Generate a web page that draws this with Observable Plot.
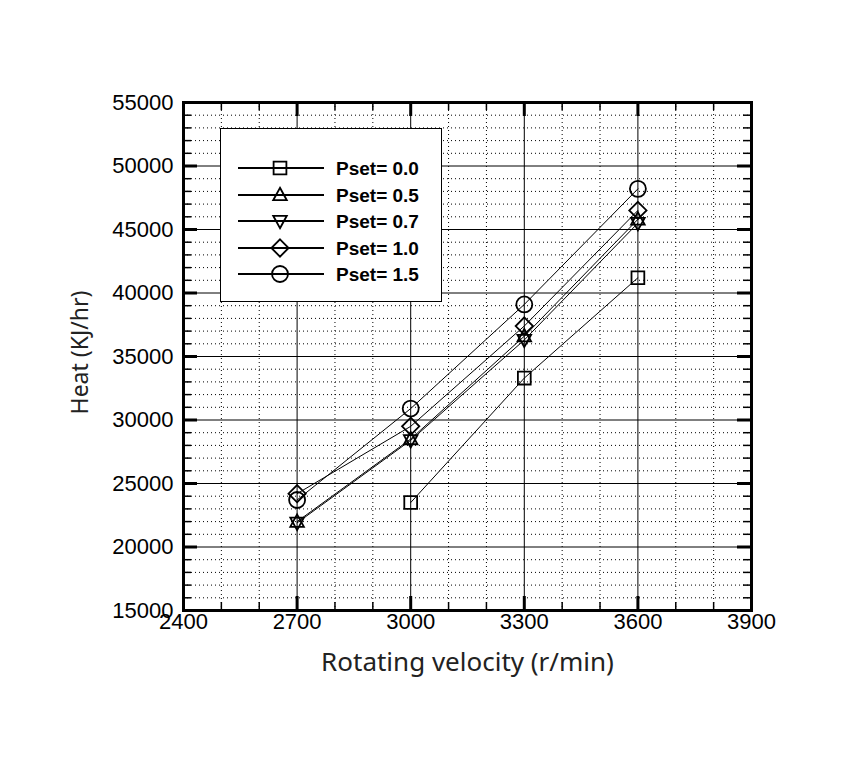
<!DOCTYPE html>
<html>
<head>
<meta charset="utf-8">
<script src="https://cdn.jsdelivr.net/npm/d3@7"></script>
<script src="https://cdn.jsdelivr.net/npm/@observablehq/plot@0.6"></script>
<style>
  html, body { margin: 0; padding: 0; background: #fff; }
  #wrap { position: relative; width: 862px; height: 766px; }
  #legend { position: absolute; }
</style>
</head>
<body>
<div id="wrap"></div>
<script>
// ---- data ----
const velocity = [2700, 3000, 3300, 3600];
const pset00 = [null, 23500, 33300, 41200];
const pset05 = [22000, 28500, 36600, 45800];
const pset07 = [21900, 28400, 36300, 45500];
const pset10 = [24200, 29500, 37400, 46500];
const pset15 = [23700, 30900, 39100, 48200];
const seriesNames = ["Pset= 0.0", "Pset= 0.5", "Pset= 0.7", "Pset= 1.0", "Pset= 1.5"];
const seriesValues = [pset00, pset05, pset07, pset10, pset15];
const xTicks = [2400, 2700, 3000, 3300, 3600, 3900];
const yTicks = [15000, 20000, 25000, 30000, 35000, 40000, 45000, 50000, 55000];
const xLabel = "Rotating velocity (r/min)";
const yLabel = "Heat (KJ/hr)";

// ---- symbols ----
const symSquare = {draw(c, size) { const r = Math.sqrt(size / Math.PI), s = 0.8 * r; c.moveTo(-s, -s); c.lineTo(s, -s); c.lineTo(s, s); c.lineTo(-s, s); c.closePath(); }};
const symUp = {draw(c, size) { const r = Math.sqrt(size / Math.PI); c.moveTo(0, -0.9 * r); c.lineTo(0.85 * r, 0.65 * r); c.lineTo(-0.85 * r, 0.65 * r); c.closePath(); }};
const symDown = {draw(c, size) { const r = Math.sqrt(size / Math.PI); c.moveTo(0, 0.9 * r); c.lineTo(0.85 * r, -0.65 * r); c.lineTo(-0.85 * r, -0.65 * r); c.closePath(); }};
const symDiamond = {draw(c, size) { const r = Math.sqrt(size / Math.PI), s = 1.08 * r; c.moveTo(0, -s); c.lineTo(s, 0); c.lineTo(0, s); c.lineTo(-s, 0); c.closePath(); }};
const symCircle = {draw(c, size) { const r = Math.sqrt(size / Math.PI); c.moveTo(r, 0); c.arc(0, 0, r, 0, 2 * Math.PI); }};
const symbols = [symSquare, symUp, symDown, symDiamond, symCircle];

// ---- table ----
const rows = [];
seriesNames.forEach((name, i) => {
  velocity.forEach((v, j) => rows.push({series: name, idx: i, x: v, y: seriesValues[i][j]}));
});

// ---- layout ----
const W = 862, H = 766;
const mL = 183, mR = 111, mT = 102, mB = 156;
const xDom = [xTicks[0], xTicks[xTicks.length - 1]];
const yDom = [yTicks[0], yTicks[yTicks.length - 1]];
const pxX = (xDom[1] - xDom[0]) / (W - mL - mR);
const pxY = (yDom[1] - yDom[0]) / (H - mT - mB);

const xMinor = d3.range(xDom[0], xDom[1] + 1, 100).filter(v => !xTicks.includes(v));
const yMinor = d3.range(yDom[0], yDom[1] + 1, 1000).filter(v => !yTicks.includes(v));
const xInner = xTicks.slice(1, -1);
const yInner = yTicks.slice(1, -1);

const majLen = 14, minLen = 8;
const titleFont = "'Noto Sans', 'Open Sans', sans-serif";

const marks = [
  // minor dotted grid
  Plot.ruleX(xMinor, {stroke: "#000", strokeWidth: 1, strokeDasharray: "1,3"}),
  Plot.ruleY(yMinor, {stroke: "#000", strokeWidth: 1, strokeDasharray: "1,3"}),
  // major solid grid
  Plot.ruleX(xInner, {stroke: "#000", strokeWidth: 1}),
  Plot.ruleY(yInner, {stroke: "#000", strokeWidth: 1}),
  // minor ticks
  Plot.ruleX(xMinor, {y1: yDom[0], y2: yDom[0] + minLen * pxY, stroke: "#000", strokeWidth: 1.5}),
  Plot.ruleX(xMinor, {y1: yDom[1], y2: yDom[1] - minLen * pxY, stroke: "#000", strokeWidth: 1.5}),
  Plot.ruleY(yMinor, {x1: xDom[0], x2: xDom[0] + minLen * pxX, stroke: "#000", strokeWidth: 1.5}),
  Plot.ruleY(yMinor, {x1: xDom[1], x2: xDom[1] - minLen * pxX, stroke: "#000", strokeWidth: 1.5}),
  // major ticks
  Plot.ruleX(xTicks, {y1: yDom[0], y2: yDom[0] + majLen * pxY, stroke: "#000", strokeWidth: 3}),
  Plot.ruleX(xTicks, {y1: yDom[1], y2: yDom[1] - majLen * pxY, stroke: "#000", strokeWidth: 3}),
  Plot.ruleY(yTicks, {x1: xDom[0], x2: xDom[0] + majLen * pxX, stroke: "#000", strokeWidth: 3}),
  Plot.ruleY(yTicks, {x1: xDom[1], x2: xDom[1] - majLen * pxX, stroke: "#000", strokeWidth: 3}),
  // data lines
  Plot.line(rows, {x: "x", y: "y", z: "series", stroke: "#000", strokeWidth: 1, curve: "linear"}),
  // data markers
  ...symbols.map((s, i) => Plot.dot(rows.filter(d => d.idx === i && d.y != null), {x: "x", y: "y", symbol: () => s, r: 8, stroke: "#000", strokeWidth: 1.8, fill: "none"})),
  // axes tick labels
  Plot.axisX(xTicks, {tickSize: 0, tickPadding: 3, tickFormat: d => String(d), fontSize: 22, label: null}),
  Plot.axisY(yTicks, {tickSize: 0, tickPadding: 10, tickFormat: d => String(d), fontSize: 22, label: null}),
  // axis titles
  Plot.text([xLabel], {frameAnchor: "bottom", dy: 60, textAnchor: "middle", fontSize: 26, fontFamily: titleFont, fill: "#222"}),
  Plot.text([yLabel], {frameAnchor: "left", textAnchor: "middle", dx: -103, dy: -4, rotate: -90, fontSize: 23, fontFamily: titleFont, fill: "#222"}),
  Plot.frame({stroke: "#000", strokeWidth: 3})
];

const chart = Plot.plot({
  width: W, height: H,
  marginLeft: mL, marginRight: mR, marginTop: mT, marginBottom: mB,
  x: {domain: xDom},
  y: {domain: yDom},
  style: {fontFamily: "'Liberation Sans', Arial, sans-serif", fontSize: "22px", color: "#000", background: "#fff"},
  marks
});
document.getElementById("wrap").appendChild(chart);

// ---- legend (inside plot area, overlay) ----
const lg = d3.select("#wrap").append("svg")
  .attr("id", "legend")
  .attr("width", 222).attr("height", 174)
  .style("left", "220px").style("top", "128px");
lg.append("rect").attr("x", 0.5).attr("y", 0.5).attr("width", 221).attr("height", 173)
  .attr("fill", "#fff").attr("stroke", "#000").attr("stroke-width", 1);
const rowY = [40, 67, 93, 120, 146];
seriesNames.forEach((name, i) => {
  const g = lg.append("g").attr("transform", `translate(0,${rowY[i]})`);
  g.append("line").attr("x1", 18).attr("x2", 104).attr("y1", 0).attr("y2", 0).attr("stroke", "#000").attr("stroke-width", 2);
  g.append("path").attr("transform", "translate(60,0)")
    .attr("d", d3.symbol(symbols[i], Math.PI * 64)())
    .attr("fill", "none").attr("stroke", "#000").attr("stroke-width", 1.8);
  g.append("text").attr("x", 116).attr("y", 0).attr("dy", "0.36em")
    .attr("font-family", "'Liberation Sans', Arial, sans-serif").attr("font-weight", "bold").attr("font-size", 19)
    .text(name);
});
</script>
</body>
</html>
